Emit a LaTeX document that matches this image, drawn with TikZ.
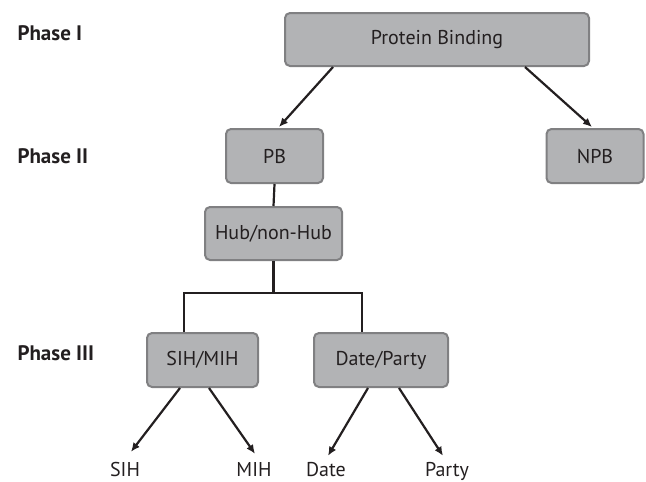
\documentclass[tikz,border=0pt]{standalone}
\usepackage{fontspec}
\setmainfont{PT Sans}
\usetikzlibrary{arrows.meta}
\definecolor{boxfill}{RGB}{178,179,181}
\definecolor{boxedge}{RGB}{128,128,130}
\definecolor{ink}{RGB}{35,31,32}
\tikzset{
	phasebox/.style={draw=boxedge, fill=boxfill, line width=2pt, rounded corners=5pt,
		inner sep=0pt, text=ink, font=\fontsize{20}{24}\selectfont},
	phaselabel/.style={anchor=west, text=ink, font=\fontsize{21}{25}\selectfont\bfseries},
	leaflabel/.style={anchor=base, inner sep=0pt, text height=14pt, text=ink,
		font=\fontsize{20}{24}\selectfont},
	link/.style={ink, line width=2.2pt},
	linkarrow/.style={ink, line width=2.2pt, -{Latex[length=9pt,width=8pt]}}
}
\begin{document}
\begin{tikzpicture}[x=1pt, y=-1pt]

	\useasboundingbox (0,0) rectangle (646,482);

	% Phases
	\node[phaselabel] (phaseI) at (14,33) {Phase I};
	\node[phaselabel] (phaseII) at (14,156) {Phase II};
	\node[phaselabel] (phaseIII) at (14,353) {Phase III};

	% Boites
	\node[phasebox, minimum width=304pt, minimum height=53pt] (binding) at (437,39.5) {Protein Binding};
	\node[phasebox, minimum width=97pt, minimum height=54pt] (pb) at (274.5,156) {PB};
	\node[phasebox, minimum width=97pt, minimum height=54pt] (npb) at (595,156) {NPB};
	\node[phasebox, minimum width=137pt, minimum height=53pt] (hub) at (273.5,233.5) {Hub/non-Hub};
	\node[phasebox, minimum width=111pt, minimum height=54pt] (sihmih) at (202.5,360) {SIH/MIH};
	\node[phasebox, minimum width=134pt, minimum height=54pt] (dateparty) at (381,360) {Date/Party};

	% Feuilles
	\node[leaflabel] (sih) at (125,476) {SIH};
	\node[leaflabel] (mih) at (254,476) {MIH};
	\node[leaflabel] (date) at (326,476) {Date};
	\node[leaflabel] (party) at (447,476) {Party};

	% Phase I -> Phase II
	\draw[linkarrow] ([xshift=-104pt]binding.south) -- ([xshift=4.5pt,yshift=1pt]pb.north);
	\draw[linkarrow] ([xshift=88pt]binding.south) -- ([xshift=-3pt,yshift=1pt]npb.north);

	% PB -> Hub/non-Hub -> Phase III
	\coordinate (split) at (273.5,293);
	\draw[link] (pb.south) -- (hub.north);
	\draw[link] (hub.south) -- (split);
	\draw[link] ([xshift=-18.5pt]sihmih.north) |- (split) -| ([xshift=-19pt]dateparty.north);

	% Phase III -> feuilles
	\draw[linkarrow] ([xshift=-22.5pt]sihmih.south) -- ([xshift=6pt,yshift=10pt]sih.north);
	\draw[linkarrow] ([xshift=6.5pt]sihmih.south) -- ([xshift=1pt,yshift=8pt]mih.north);
	\draw[linkarrow] ([xshift=-13pt]dateparty.south) -- ([xshift=2pt,yshift=6pt]date.north);
	\draw[linkarrow] ([xshift=18pt]dateparty.south) -- ([xshift=-4pt,yshift=6pt]party.north);

\end{tikzpicture}
\end{document}
